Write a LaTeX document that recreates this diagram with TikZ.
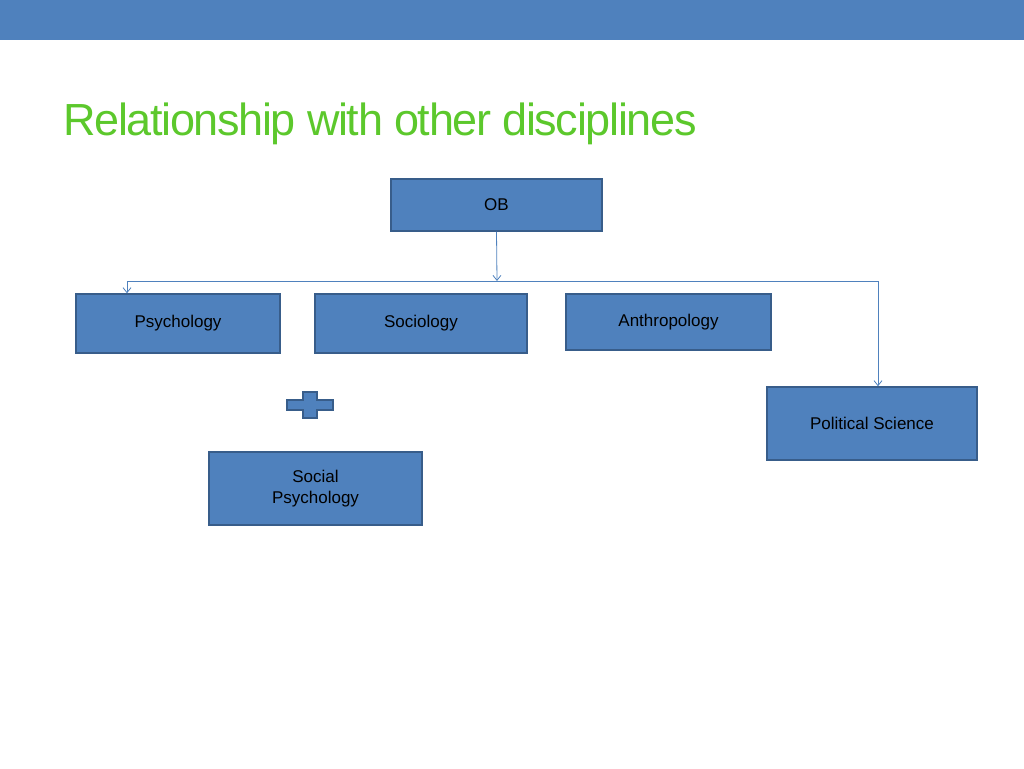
\documentclass[tikz,border=0pt]{standalone}
\usepackage{fontspec}
\usetikzlibrary{arrows.meta}
\setmainfont{Liberation Sans}
\definecolor{bbar}{HTML}{4F81BD}
\definecolor{bedge}{HTML}{385D8A}
\definecolor{tgreen}{HTML}{5CC82C}
\begin{document}
\begin{tikzpicture}[x=1pt,y=-1pt,
  box/.style={draw=bedge,line width=1.5pt,fill=bbar,inner sep=0pt,align=center,font=\fontsize{17}{21}\selectfont},
  conn/.style={draw=bbar,line width=0.8pt},
  arr/.style={conn,->,>={Straight Barb[length=5pt,width=8pt]}}]
\useasboundingbox (0,0) rectangle (1024,768);
\fill[bbar] (0,0) rectangle (1024,40);
\node[anchor=base west,text=tgreen,font=\fontsize{45}{50}\selectfont,inner sep=0pt] (title) at (63,135) {\addfontfeatures{LetterSpace=-3}Relationship with other disciplines};
\node[box,minimum width=211pt,minimum height=52pt] (ob) at (496.5,205) {OB};
\node[box,minimum width=204pt,minimum height=59pt] (psy) at (178,323.5) {Psychology};
\node[box,minimum width=212pt,minimum height=59pt] (soc) at (421,323.5) {Sociology};
\node[box,minimum width=205pt,minimum height=56pt] (ant) at (668.5,322) {Anthropology};
\node[box,minimum width=210pt,minimum height=73pt] (pol) at (872,423.5) {Political Science};
\node[box,minimum width=213pt,minimum height=73pt] (sps) at (315.5,488.5) {Social\\Psychology};
\coordinate (j) at (497,281);
\coordinate (l) at (127,281);
\coordinate (r) at (878,281);
\draw[arr] (ob.south) -- (j);
\draw[conn] (l) -- (r);
\draw[arr] (l) -- (l|-psy.north);
\draw[arr] (r) -- (r|-pol.north);
\filldraw[fill=bbar,draw=bedge,line width=1.2pt] (287,400) -- (303,400) -- (303,392) -- (317,392) -- (317,400) -- (333,400) -- (333,410) -- (317,410) -- (317,418) -- (303,418) -- (303,410) -- (287,410) -- cycle;
\end{tikzpicture}
\end{document}
